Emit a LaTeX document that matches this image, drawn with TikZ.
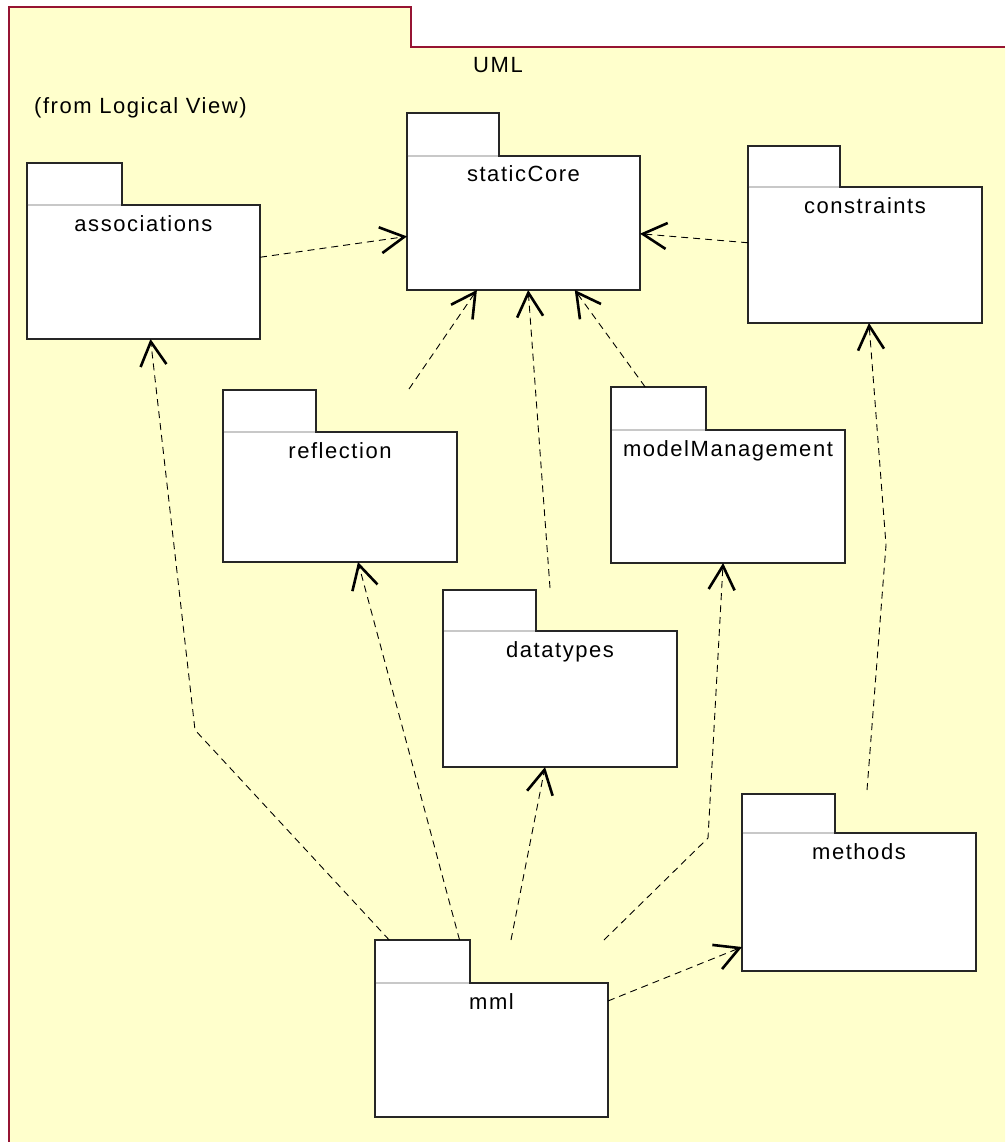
\documentclass[tikz,border=0pt]{standalone}
\usepackage{fontspec}
\setmainfont{Liberation Sans}[LetterSpace=7]
\usetikzlibrary{arrows.meta,calc}
\definecolor{umlfill}{HTML}{FFFFCC}
\definecolor{umlborder}{RGB}{150,20,50}
\definecolor{tabgray}{HTML}{C8C8C8}
\newcommand{\umlpkg}[8]{% #1 name, #2 label, #3 x1, #4 tabtop, #5 tabright, #6 bodytop, #7 x2, #8 bottom
  \node[pkgbody, minimum width={(#7-#3)*1pt}, minimum height={(#8-#6)*1pt}, anchor=north west] (#1) at (#3,#6) {};
  \node[pkgbody, minimum width={(#5-#3)*1pt}, minimum height={(#6-#4)*1pt}, anchor=south west] (#1-tab) at (#3,#6) {};
  \draw[tabline] ([xshift=0.6pt]#1-tab.south west) -- ([xshift=-0.6pt]#1-tab.south east);
  \node[pkglabel, anchor=base] (#1-label) at ([yshift=-26pt]#1.north) {#2};
}
\begin{document}
\begin{tikzpicture}[x=1pt, y=-1pt,
  font=\fontsize{22}{26}\selectfont,
  pkgbody/.style={rectangle, draw=black!85, fill=white, line width=1.1pt, inner sep=0pt, outer sep=0pt},
  tabline/.style={draw=tabgray, line width=1.1pt},
  pkglabel/.style={inner sep=0pt, text=black},
  dep/.style={draw=black, line width=0.9pt, dash pattern=on 7pt off 5pt,
    -{Straight Barb[length=24pt, width=26pt, line width=2.6pt]}},
  umlline/.style={draw=umlborder, line width=1.3pt}
]
\useasboundingbox (0,0) rectangle (1005,1142);
\fill[white] (0,0) rectangle (1005,1142);
% outer UML package
\fill[umlfill] (9,7) -- (411,7) -- (411,47) -- (1005,47) -- (1005,1142) -- (9,1142) -- cycle;
\draw[umlline] (9,1142) -- (9,7) -- (411,7) -- (411,47) -- (1005,47);
\node[inner sep=0pt, anchor=base] (uml-label) at (498,73) {UML};
\node[inner sep=0pt, anchor=base west] (uml-from) at (34,114) {(from Logical View)};

% packages
\umlpkg{staticCore}{staticCore}{407}{113}{499}{156}{640}{290}
\umlpkg{constraints}{constraints}{748}{146}{840}{187}{982}{323}
\umlpkg{associations}{associations}{27}{163}{122}{205}{260}{339}
\umlpkg{reflection}{reflection}{223}{390}{316}{432}{457}{562}
\umlpkg{modelManagement}{modelManagement}{611}{387}{706}{430}{845}{563}
\umlpkg{datatypes}{datatypes}{443}{590}{536}{631}{677}{767}
\umlpkg{methods}{methods}{742}{794}{835}{833}{976}{971}
\umlpkg{mml}{mml}{375}{940}{470}{983}{608}{1117}

% free ends and bends
\coordinate (reflection-out) at (409,389);
\coordinate (datatypes-out) at (550,588);
\coordinate (methods-out) at (867,790);
\coordinate (mml-out-dt) at (511,940);
\coordinate (mml-out-mm) at (604,940);
\coordinate (bend-assoc) at (195,730);
\coordinate (bend-mm) at (708,838);
\coordinate (bend-constr) at (886,545);

% dependencies
\draw[dep] ($(associations.north east)!0.39!(associations.south east)$) -- ($(staticCore.north west)!0.6!(staticCore.south west)$);
\draw[dep] ($(constraints.north west)!0.41!(constraints.south west)$) -- ($(staticCore.north east)!0.58!(staticCore.south east)$);
\draw[dep] (reflection-out) -- ($(staticCore.south west)!0.30!(staticCore.south east)$);
\draw[dep] (datatypes-out) -- ($(staticCore.south west)!0.52!(staticCore.south east)$);
\draw[dep] ($(modelManagement-tab.north west)!0.36!(modelManagement-tab.north east)$) -- ($(staticCore.south west)!0.72!(staticCore.south east)$);
\draw[dep] (methods-out) -- (bend-constr) -- ($(constraints.south west)!0.517!(constraints.south east)$);
\draw[dep] ($(mml-tab.north west)!0.15!(mml-tab.north east)$) -- (bend-assoc) -- ($(associations.south west)!0.53!(associations.south east)$);
\draw[dep] ($(mml-tab.north west)!0.89!(mml-tab.north east)$) -- ($(reflection.south west)!0.577!(reflection.south east)$);
\draw[dep] (mml-out-dt) -- ($(datatypes.south west)!0.436!(datatypes.south east)$);
\draw[dep] (mml-out-mm) -- (bend-mm) -- ($(modelManagement.south west)!0.479!(modelManagement.south east)$);
\draw[dep] ($(mml.north east)!0.134!(mml.south east)$) -- ($(methods.north west)!0.826!(methods.south west)$);
\end{tikzpicture}
\end{document}
